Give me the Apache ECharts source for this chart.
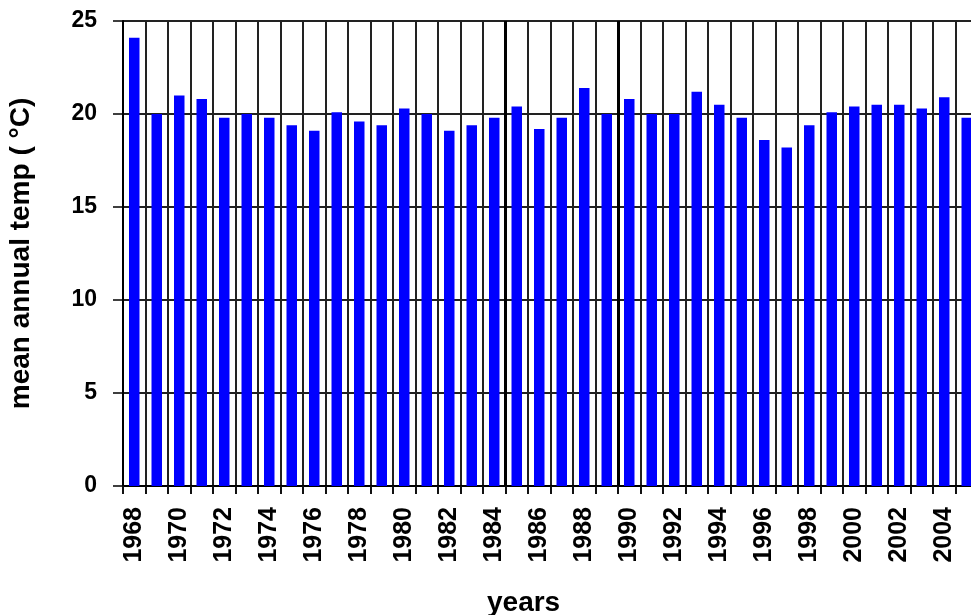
<!DOCTYPE html>
<html>
<head>
<meta charset="utf-8">
<script src="https://cdn.jsdelivr.net/npm/echarts@6/dist/echarts.min.js"></script>
<style>
html,body{margin:0;padding:0;background:#fff;}
#chart{width:971px;height:615px;}
</style>
</head>
<body>
<div id="chart"></div>
<script>
const years = ['1968','1969','1970','1971','1972','1973','1974','1975','1976','1977',
  '1978','1979','1980','1981','1982','1983','1984','1985','1986','1987',
  '1988','1989','1990','1991','1992','1993','1994','1995','1996','1997',
  '1998','1999','2000','2001','2002','2003','2004','2005'];
const temps = [24.1, 20.0, 21.0, 20.8, 19.8, 20.0, 19.8, 19.4, 19.1, 20.1,
  19.6, 19.4, 20.3, 20.0, 19.1, 19.4, 19.8, 20.4, 19.2, 19.8,
  21.4, 20.0, 20.8, 20.0, 20.0, 21.2, 20.5, 19.8, 18.6, 18.2,
  19.4, 20.1, 20.4, 20.5, 20.5, 20.3, 20.9, 19.8];
const yTicks = [0, 5, 10, 15, 20, 25];
const dividerYears = ['1985', '1990'];

const FONT = '"Liberation Sans", Arial, sans-serif';
const chart = echarts.init(document.getElementById('chart'), null, {renderer: 'canvas'});

const dividerData = dividerYears.map(y => ({xAxis: years.indexOf(y)}));

chart.setOption({
  animation: false,
  backgroundColor: '#fff',
  title: {
    text: 'years',
    left: 482, top: 584,
    textStyle: {fontFamily: FONT, fontSize: 28, fontWeight: 'bold', color: '#000'}
  },
  grid: {left: 123, top: 21, width: 855, height: 465, containLabel: false, outerBoundsMode: 'none'},
  xAxis: [{
    type: 'category',
    data: years,
    boundaryGap: true,
    axisLine: {show: true, lineStyle: {color: '#000', width: 2}},
    axisTick: {show: true, interval: 0, length: 8, alignWithLabel: false, lineStyle: {color: '#111', width: 2}},
    axisLabel: {interval: 1, rotate: 90, margin: 21, fontFamily: FONT, fontSize: 25, fontWeight: 'bold', color: '#000'},
    splitLine: {show: true, interval: 0, lineStyle: {color: '#222', width: 2}}
  }, {
    type: 'value',
    min: 0,
    max: years.length,
    show: false
  }],
  yAxis: {
    type: 'value',
    min: yTicks[0],
    max: yTicks[yTicks.length - 1],
    interval: yTicks[1] - yTicks[0],
    name: 'mean annual temp ( °C)',
    nameLocation: 'middle',
    nameGap: 88,
    nameTextStyle: {fontFamily: FONT, fontSize: 28, fontWeight: 'bold', color: '#000'},
    axisLine: {show: true, lineStyle: {color: '#000', width: 2}},
    axisTick: {show: true, length: 10, lineStyle: {color: '#000', width: 1.5}},
    axisLabel: {margin: 26, fontFamily: FONT, fontSize: 23, fontWeight: 'bold', color: '#000'},
    splitLine: {show: true, lineStyle: {color: '#222', width: 2}}
  },
  series: [{
    type: 'bar',
    data: temps,
    barWidth: 10.5,
    itemStyle: {color: '#0000ff'},
    z: 3
  }, {
    type: 'scatter',
    xAxisIndex: 1,
    yAxisIndex: 0,
    data: [],
    markLine: {
      silent: true,
      symbol: 'none',
      label: {show: false},
      lineStyle: {color: '#000', width: 3, type: 'solid'},
      data: dividerData
    },
    z: 2
  }]
});
</script>
</body>
</html>
